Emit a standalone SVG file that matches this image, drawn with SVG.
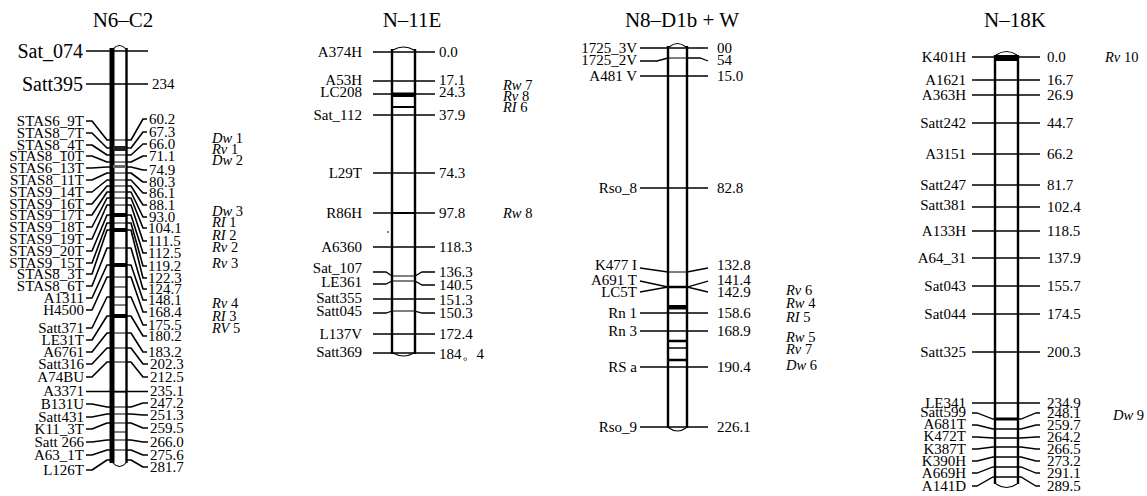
<svg xmlns="http://www.w3.org/2000/svg" width="1147" height="496" viewBox="0 0 1147 496">
<style>
text{font-family:"Liberation Serif","Times New Roman",serif;fill:#000}
.ti{font-size:21px;text-anchor:middle}
.lb{font-size:15px;text-anchor:end}
.big{font-size:20px;text-anchor:end}
.v{font-size:15px}
.tr{font-size:14.5px}
.tr tspan{font-style:italic}
.c{stroke:#000;stroke-width:1.3;fill:none}
.c1{stroke:#000;stroke-width:1.6;fill:none;stroke-linejoin:round}
.b{stroke:#000;stroke-width:1;fill:none}
.bd{stroke:#000;stroke-width:2.4;fill:none}
.cap{stroke:#000;stroke-width:1.1;fill:none}
</style>
<rect width="1147" height="496" fill="#fff"/>

<!-- ============ Chromosome 1 : N6-C2 ============ -->
<g id="chr-N6-C2">
<text class="ti" x="123" y="27">N6–C2</text>
<rect x="112" y="48" width="14" height="415" fill="#fff"/>
<rect x="109.5" y="48" width="5" height="415" fill="#000"/>
<line class="bd" x1="126.5" y1="48" x2="126.5" y2="463"/>
<path class="cap" d="M113,49 Q119.5,42 126,49"/>
<path class="cap" d="M113,463 Q119.5,470 126,463"/>
<g class="b">
<line x1="113" y1="140" x2="126" y2="140"/><line x1="113" y1="155" x2="126" y2="155"/>
<line x1="113" y1="162" x2="126" y2="162"/><line x1="113" y1="173" x2="126" y2="173"/>
<line x1="113" y1="180" x2="126" y2="180"/><line x1="113" y1="186" x2="126" y2="186"/>
<line x1="113" y1="192" x2="126" y2="192"/><line x1="113" y1="198" x2="126" y2="198"/>
<line x1="113" y1="205" x2="126" y2="205"/><line x1="113" y1="223" x2="126" y2="223"/>
<line x1="113" y1="248" x2="126" y2="248"/><line x1="113" y1="277" x2="126" y2="277"/>
<line x1="113" y1="287" x2="126" y2="287"/><line x1="113" y1="297" x2="126" y2="297"/>
<line x1="113" y1="305" x2="126" y2="305"/><line x1="113" y1="333" x2="126" y2="333"/>
<line x1="113" y1="348" x2="126" y2="348"/><line x1="113" y1="362" x2="126" y2="362"/>
<line x1="113" y1="392" x2="126" y2="392"/><line x1="113" y1="407" x2="126" y2="407"/>
<line x1="113" y1="414" x2="126" y2="414"/><line x1="113" y1="423" x2="126" y2="423"/>
<line x1="113" y1="432" x2="126" y2="432"/><line x1="113" y1="440" x2="126" y2="440"/>
<line x1="113" y1="450" x2="126" y2="450"/>
</g>
<rect x="113" y="146" width="13" height="5" fill="#222"/>
<rect x="113" y="165" width="13" height="3" fill="#666"/>
<rect x="113" y="213" width="13" height="4" fill="#000"/>
<rect x="113" y="228" width="13" height="4" fill="#000"/>
<rect x="113" y="263" width="13" height="4" fill="#000"/>
<rect x="113" y="314" width="13" height="4" fill="#000"/>
</g>
<g id="labels-N6-C2">
<text class="big" x="83" y="58">Sat_074</text>
<text class="big" x="83" y="91">Satt395</text>
<text class="v" x="152" y="89">234</text>
<text class="lb" x="84" y="126">STAS6_9T</text>
<text class="lb" x="84" y="138">STAS8_7T</text>
<text class="lb" x="84" y="150">STAS8_4T</text>
<text class="lb" x="84" y="161">STAS8_10T</text>
<text class="lb" x="84" y="173">STAS6_13T</text>
<text class="lb" x="84" y="185">STAS8_11T</text>
<text class="lb" x="84" y="197">STAS9_14T</text>
<text class="lb" x="84" y="209">STAS9_16T</text>
<text class="lb" x="84" y="220">STAS9_17T</text>
<text class="lb" x="84" y="232">STAS9_18T</text>
<text class="lb" x="84" y="244">STAS9_19T</text>
<text class="lb" x="84" y="256">STAS9_20T</text>
<text class="lb" x="84" y="268">STAS9_15T</text>
<text class="lb" x="84" y="279">STAS8_3T</text>
<text class="lb" x="84" y="291">STAS8_6T</text>
<text class="lb" x="84" y="303">A1311</text>
<text class="lb" x="84" y="315">H4500</text>
<text class="lb" x="84" y="333">Satt371</text>
<text class="lb" x="84" y="345">LE31T</text>
<text class="lb" x="84" y="357">A6761</text>
<text class="lb" x="84" y="369">Satt316</text>
<text class="lb" x="84" y="382">A74BU</text>
<text class="lb" x="84" y="396">A3371</text>
<text class="lb" x="84" y="409">B131U</text>
<text class="lb" x="84" y="422">Satt431</text>
<text class="lb" x="84" y="434">K11_3T</text>
<text class="lb" x="84" y="447">Satt 266</text>
<text class="lb" x="84" y="460">A63_1T</text>
<text class="lb" x="84" y="475">L126T</text>
<text class="v" x="149" y="124">60.2</text>
<text class="v" x="149" y="137">67.3</text>
<text class="v" x="149" y="149">66.0</text>
<text class="v" x="149" y="161">71.1</text>
<text class="v" x="149" y="175">74.9</text>
<text class="v" x="149" y="187">80.3</text>
<text class="v" x="149" y="198">86.1</text>
<text class="v" x="149" y="210">88.1</text>
<text class="v" x="149" y="222">93.0</text>
<text class="v" x="148" y="233">104.1</text>
<text class="v" x="148" y="246">111.5</text>
<text class="v" x="148" y="258">112.5</text>
<text class="v" x="148" y="271">119.2</text>
<text class="v" x="148" y="283">122.3</text>
<text class="v" x="148" y="294">124.7</text>
<text class="v" x="148" y="305">148.1</text>
<text class="v" x="148" y="317">168.4</text>
<text class="v" x="148" y="330">175.5</text>
<text class="v" x="148" y="341">180.2</text>
<text class="v" x="148" y="357">183.2</text>
<text class="v" x="150" y="369">202.3</text>
<text class="v" x="150" y="382">212.5</text>
<text class="v" x="150" y="396">235.1</text>
<text class="v" x="150" y="408">247.2</text>
<text class="v" x="150" y="420">251.3</text>
<text class="v" x="150" y="433">259.5</text>
<text class="v" x="150" y="447">266.0</text>
<text class="v" x="150" y="460">275.6</text>
<text class="v" x="150" y="472">281.7</text>
</g>
<g id="traits-N6-C2">
<text class="tr" x="212" y="143"><tspan>Dw</tspan> 1</text>
<text class="tr" x="212" y="154"><tspan>Rv</tspan> 1</text>
<text class="tr" x="212" y="165"><tspan>Dw</tspan> 2</text>
<text class="tr" x="212" y="216"><tspan>Dw</tspan> 3</text>
<text class="tr" x="212" y="227"><tspan>RI</tspan> 1</text>
<text class="tr" x="212" y="240"><tspan>RI</tspan> 2</text>
<text class="tr" x="212" y="252"><tspan>Rv</tspan> 2</text>
<text class="tr" x="212" y="268"><tspan>Rv</tspan> 3</text>
<text class="tr" x="212" y="308"><tspan>Rv</tspan> 4</text>
<text class="tr" x="212" y="321"><tspan>RI</tspan> 3</text>
<text class="tr" x="212" y="333"><tspan>RV</tspan> 5</text>
</g>

<!-- ============ Chromosome 2 : N-11E ============ -->
<g id="chr-N-11E">
<text class="ti" x="412" y="27">N–11E</text>
<rect x="392" y="50" width="23" height="303" fill="#fff"/>
<line class="bd" x1="392" y1="49" x2="392" y2="354"/>
<line class="bd" x1="415" y1="49" x2="415" y2="354"/>
<path class="cap" d="M393,50 Q403.5,44 414,50"/>
<path class="cap" d="M393,353 Q403.5,359 414,353"/>
<rect x="393" y="92.5" width="21" height="4.5" fill="#000"/>
<line x1="393" y1="107" x2="414" y2="107" stroke="#000" stroke-width="2"/>
<line x1="393" y1="213" x2="414" y2="213" stroke="#000" stroke-width="2"/>
<line x1="393" y1="276" x2="414" y2="276" class="b"/>
<line x1="393" y1="281" x2="414" y2="281" class="b"/>
<line x1="393" y1="311" x2="414" y2="311" class="b"/>
<line x1="387" y1="232" x2="389" y2="232" stroke="#000" stroke-width="1.2"/>
</g>
<g id="labels-N-11E">
<text class="lb" x="362" y="57">A374H</text>
<text class="lb" x="362" y="85">A53H</text>
<text class="lb" x="362" y="97">LC208</text>
<text class="lb" x="362" y="120">Sat_112</text>
<text class="lb" x="362" y="178">L29T</text>
<text class="lb" x="362" y="218">R86H</text>
<text class="lb" x="362" y="252">A6360</text>
<text class="lb" x="362" y="273">Sat_107</text>
<text class="lb" x="362" y="287">LE361</text>
<text class="lb" x="362" y="303">Satt355</text>
<text class="lb" x="362" y="316">Satt045</text>
<text class="lb" x="362" y="339">L137V</text>
<text class="lb" x="362" y="357">Satt369</text>
<text class="v" x="439" y="57">0.0</text>
<text class="v" x="439" y="85">17.1</text>
<text class="v" x="439" y="97">24.3</text>
<text class="v" x="439" y="120">37.9</text>
<text class="v" x="439" y="178">74.3</text>
<text class="v" x="439" y="218">97.8</text>
<text class="v" x="439" y="252">118.3</text>
<text class="v" x="439" y="277">136.3</text>
<text class="v" x="439" y="290">140.5</text>
<text class="v" x="439" y="305">151.3</text>
<text class="v" x="439" y="318">150.3</text>
<text class="v" x="439" y="339">172.4</text>
<text class="v" x="439" y="359">184。4</text>
</g>
<g id="traits-N-11E">
<text class="tr" x="503" y="90"><tspan>Rw</tspan> 7</text>
<text class="tr" x="503" y="101"><tspan>Rv</tspan> 8</text>
<text class="tr" x="503" y="112"><tspan>RI</tspan> 6</text>
<text class="tr" x="503" y="218"><tspan>Rw</tspan> 8</text>
</g>

<!-- ============ Chromosome 3 : N8-D1b + W ============ -->
<g id="chr-N8-D1b-W">
<text class="ti" x="682" y="27">N8–D1b + W</text>
<rect x="668" y="46" width="19" height="382" fill="#fff"/>
<line class="bd" x1="668" y1="46" x2="668" y2="428"/>
<line class="bd" x1="687" y1="46" x2="687" y2="428"/>
<path class="cap" d="M669,47 Q677.5,40 686,47"/>
<path class="cap" d="M669,428 Q677.5,434 686,428"/>
<line x1="669" y1="58" x2="686" y2="58" class="b"/>
<line x1="669" y1="272" x2="686" y2="272" class="b"/>
<line x1="669" y1="287" x2="686" y2="287" stroke="#000" stroke-width="2.5"/>
<rect x="669" y="305" width="17" height="4.5" fill="#000"/>
<line x1="669" y1="341" x2="686" y2="341" stroke="#000" stroke-width="2.5"/>
<line x1="669" y1="348" x2="686" y2="348" stroke="#000" stroke-width="1.5"/>
<line x1="669" y1="360" x2="686" y2="360" stroke="#000" stroke-width="2.5"/>
</g>
<g id="labels-N8-D1b-W">
<text class="lb" x="637" y="53">1725_3V</text>
<text class="lb" x="637" y="65">1725_2V</text>
<text class="lb" x="637" y="81">A481 V</text>
<text class="lb" x="637" y="193">Rso_8</text>
<text class="lb" x="637" y="270">K477 I</text>
<text class="lb" x="637" y="285">A691 T</text>
<text class="lb" x="637" y="297">LC5T</text>
<text class="lb" x="637" y="318">Rn 1</text>
<text class="lb" x="637" y="336">Rn 3</text>
<text class="lb" x="637" y="372">RS a</text>
<text class="lb" x="637" y="432">Rso_9</text>
<text class="v" x="717" y="53">00</text>
<text class="v" x="717" y="65">54</text>
<text class="v" x="717" y="81">15.0</text>
<text class="v" x="717" y="193">82.8</text>
<text class="v" x="717" y="270">132.8</text>
<text class="v" x="717" y="285">141.4</text>
<text class="v" x="717" y="297">142.9</text>
<text class="v" x="717" y="318">158.6</text>
<text class="v" x="717" y="336">168.9</text>
<text class="v" x="717" y="372">190.4</text>
<text class="v" x="717" y="432">226.1</text>
</g>
<g id="traits-N8-D1b-W">
<text class="tr" x="786" y="295"><tspan>Rv</tspan> 6</text>
<text class="tr" x="786" y="308"><tspan>Rw</tspan> 4</text>
<text class="tr" x="786" y="322"><tspan>RI</tspan> 5</text>
<text class="tr" x="786" y="342"><tspan>Rw</tspan> 5</text>
<text class="tr" x="786" y="354"><tspan>Rv</tspan> 7</text>
<text class="tr" x="786" y="370"><tspan>Dw</tspan> 6</text>
</g>

<!-- ============ Chromosome 4 : N-18K ============ -->
<g id="chr-N-18K">
<text class="ti" x="1015" y="27">N–18K</text>
<rect x="995" y="55" width="23" height="429" fill="#fff"/>
<line class="bd" x1="995" y1="55" x2="995" y2="484"/>
<line class="bd" x1="1018" y1="55" x2="1018" y2="484"/>
<path class="cap" d="M996,55 Q1006.5,48 1017,55"/>
<path class="cap" d="M996,484 Q1006.5,491 1017,484"/>
<rect x="996" y="55" width="21" height="6" fill="#000"/>
<rect x="996" y="417.5" width="21" height="3" fill="#000"/>
</g>
<g id="labels-N-18K">
<text class="lb" x="966" y="62">K401H</text>
<text class="lb" x="966" y="85">A1621</text>
<text class="lb" x="966" y="100">A363H</text>
<text class="lb" x="966" y="128">Satt242</text>
<text class="lb" x="966" y="159">A3151</text>
<text class="lb" x="966" y="190">Satt247</text>
<text class="lb" x="966" y="210">Satt381</text>
<text class="lb" x="966" y="236">A133H</text>
<text class="lb" x="966" y="263">A64_31</text>
<text class="lb" x="966" y="291">Sat043</text>
<text class="lb" x="966" y="319">Sat044</text>
<text class="lb" x="966" y="357">Satt325</text>
<text class="lb" x="966" y="408">LE341</text>
<text class="lb" x="966" y="417">Satt599</text>
<text class="lb" x="966" y="429">A681T</text>
<text class="lb" x="966" y="441">K472T</text>
<text class="lb" x="966" y="454">K387T</text>
<text class="lb" x="966" y="466">K390H</text>
<text class="lb" x="966" y="478">A669H</text>
<text class="lb" x="966" y="491">A141D</text>
<text class="v" x="1047" y="62">0.0</text>
<text class="v" x="1047" y="85">16.7</text>
<text class="v" x="1047" y="100">26.9</text>
<text class="v" x="1047" y="128">44.7</text>
<text class="v" x="1047" y="159">66.2</text>
<text class="v" x="1047" y="190">81.7</text>
<text class="v" x="1047" y="212">102.4</text>
<text class="v" x="1047" y="236">118.5</text>
<text class="v" x="1047" y="263">137.9</text>
<text class="v" x="1047" y="291">155.7</text>
<text class="v" x="1047" y="319">174.5</text>
<text class="v" x="1047" y="357">200.3</text>
<text class="v" x="1047" y="408">234.9</text>
<text class="v" x="1047" y="418">248.1</text>
<text class="v" x="1047" y="430">259.7</text>
<text class="v" x="1047" y="442">264.2</text>
<text class="v" x="1047" y="454">266.5</text>
<text class="v" x="1047" y="466">273.2</text>
<text class="v" x="1047" y="478">291.1</text>
<text class="v" x="1047" y="491">289.5</text>
</g>
<g id="traits-N-18K">
<text class="tr" x="1105" y="62"><tspan>Rv</tspan> 10</text>
<text class="tr" x="1113" y="420"><tspan>Dw</tspan> 9</text>
</g>

<!-- ============ Connectors ============ -->
<g id="connectors">
<!-- N6-C2 -->
<g class="c1">
<line x1="86" y1="51" x2="148" y2="51"/>
<line x1="86" y1="84" x2="148" y2="84"/>
<polyline points="86,121 92,121 107,140 112,140"/><polyline points="126,140 131,140 143,119 147,119"/>
<polyline points="86,133 92,133 107,148 112,148"/><polyline points="126,148 131,148 143,132 147,132"/>
<polyline points="86,145 92,145 107,155 112,155"/><polyline points="126,155 131,155 143,144 147,144"/>
<polyline points="86,156 92,156 107,162 112,162"/><polyline points="126,162 131,162 143,156 147,156"/>
<polyline points="86,168 92,168 107,167 112,167"/><polyline points="126,167 131,167 143,170 147,170"/>
<polyline points="86,180 92,180 107,173 112,173"/><polyline points="126,173 131,173 143,182 147,182"/>
<polyline points="86,192 92,192 107,180 112,180"/><polyline points="126,180 131,180 143,193 147,193"/>
<polyline points="86,204 92,204 107,186 112,186"/><polyline points="126,186 131,186 143,205 147,205"/>
<polyline points="86,215 92,215 107,192 112,192"/><polyline points="126,192 131,192 143,217 147,217"/>
<polyline points="86,227 92,227 107,198 112,198"/><polyline points="126,198 131,198 143,228 147,228"/>
<polyline points="86,239 92,239 107,205 112,205"/><polyline points="126,205 131,205 143,241 147,241"/>
<polyline points="86,251 92,251 107,215 112,215"/><polyline points="126,215 131,215 143,253 147,253"/>
<polyline points="86,263 92,263 107,223 112,223"/><polyline points="126,223 131,223 143,266 147,266"/>
<polyline points="86,274 92,274 107,230 112,230"/><polyline points="126,230 131,230 143,278 147,278"/>
<polyline points="86,286 92,286 107,248 112,248"/><polyline points="126,248 131,248 143,289 147,289"/>
<polyline points="86,298 92,298 107,265 112,265"/><polyline points="126,265 131,265 143,300 147,300"/>
<polyline points="86,310 92,310 107,277 112,277"/><polyline points="126,277 131,277 143,312 147,312"/>
<polyline points="86,328 92,328 107,297 112,297"/><polyline points="126,297 131,297 143,325 147,325"/>
<polyline points="86,340 92,340 107,316 112,316"/><polyline points="126,316 131,316 143,336 147,336"/>
<polyline points="86,352 92,352 107,333 112,333"/><polyline points="126,333 131,333 143,352 147,352"/>
<polyline points="86,364 92,364 107,348 112,348"/><polyline points="126,348 131,348 143,364 148,364"/>
<polyline points="86,377 92,377 107,362 112,362"/><polyline points="126,362 131,362 143,377 148,377"/>
<line x1="86" y1="391.5" x2="148" y2="391.5"/>
<polyline points="86,404 92,404 107,407 112,407"/><polyline points="126,407 131,407 143,403 148,403"/>
<polyline points="86,417 92,417 107,414 112,414"/><polyline points="126,414 131,414 143,415 148,415"/>
<polyline points="86,429 92,429 107,423 112,423"/><polyline points="126,423 131,423 143,428 148,428"/>
<polyline points="86,442 92,442 107,440 112,440"/><polyline points="126,440 131,440 143,442 148,442"/>
<polyline points="86,455 92,455 107,450 112,450"/><polyline points="126,450 131,450 143,455 148,455"/>
<polyline points="86,470 92,470 107,460 112,460"/><polyline points="126,460 131,460 143,467 148,467"/>
</g>
<g class="c">
<!-- N-11E -->
<line x1="373" y1="52" x2="435" y2="52"/>
<line x1="373" y1="81" x2="435" y2="81"/>
<line x1="373" y1="94" x2="435" y2="94"/>
<line x1="373" y1="115" x2="435" y2="115"/>
<line x1="373" y1="173" x2="435" y2="173"/>
<line x1="373" y1="213" x2="435" y2="213"/>
<line x1="373" y1="247" x2="435" y2="247"/>
<polyline points="373,272 386,272 392,276"/><polyline points="415,276 422,272 435,272"/>
<polyline points="373,284 386,284 392,281"/><polyline points="415,281 422,285 435,285"/>
<line x1="373" y1="299" x2="435" y2="299"/>
<polyline points="373,313 386,313 392,311"/><polyline points="415,311 422,313 435,313"/>
<line x1="373" y1="334" x2="435" y2="334"/>
<line x1="373" y1="353" x2="435" y2="353"/>
<!-- N8-D1b + W -->
<line x1="640" y1="48" x2="708" y2="48"/>
<polyline points="640,61 657,61 668,58"/><polyline points="687,58 700,58 708,61"/>
<line x1="640" y1="76" x2="708" y2="76"/>
<line x1="640" y1="188" x2="708" y2="188"/>
<polyline points="640,268 668,272"/><polyline points="687,272 708,268"/>
<polyline points="640,281 668,287"/><polyline points="687,287 708,281"/>
<polyline points="640,292 668,287"/><polyline points="687,287 708,292"/>
<line x1="640" y1="313" x2="708" y2="313"/>
<line x1="640" y1="331" x2="708" y2="331"/>
<line x1="640" y1="367" x2="708" y2="367"/>
<line x1="640" y1="427" x2="708" y2="427"/>
<!-- N-18K -->
<line x1="972" y1="57" x2="1040" y2="57"/>
<line x1="972" y1="80" x2="1040" y2="80"/>
<line x1="972" y1="95" x2="1040" y2="95"/>
<line x1="972" y1="123" x2="1040" y2="123"/>
<line x1="972" y1="154" x2="1040" y2="154"/>
<line x1="972" y1="185" x2="1040" y2="185"/>
<line x1="972" y1="207" x2="1040" y2="207"/>
<line x1="972" y1="231" x2="1040" y2="231"/>
<line x1="972" y1="258" x2="1040" y2="258"/>
<line x1="972" y1="286" x2="1040" y2="286"/>
<line x1="972" y1="314" x2="1040" y2="314"/>
<line x1="972" y1="352" x2="1040" y2="352"/>
<line x1="972" y1="403" x2="1040" y2="403"/>
<polyline points="972,413 977,413 993,419 1018,419 1021,419 1036,413 1040,413"/>
<polyline points="972,425 977,425 993,429 1018,429 1021,429 1036,425 1040,425"/>
<polyline points="972,437 977,437 993,438 1018,438 1021,438 1036,437 1040,437"/>
<polyline points="972,449 977,449 993,447 1018,447 1021,447 1036,449 1040,449"/>
<polyline points="972,461 977,461 993,457 1018,457 1021,457 1036,461 1040,461"/>
<polyline points="972,473 977,473 993,467 1018,467 1021,467 1036,473 1040,473"/>
<polyline points="972,486 977,486 993,477 1018,477 1021,477 1036,486 1040,486"/>
</g>
</g>
</svg>
